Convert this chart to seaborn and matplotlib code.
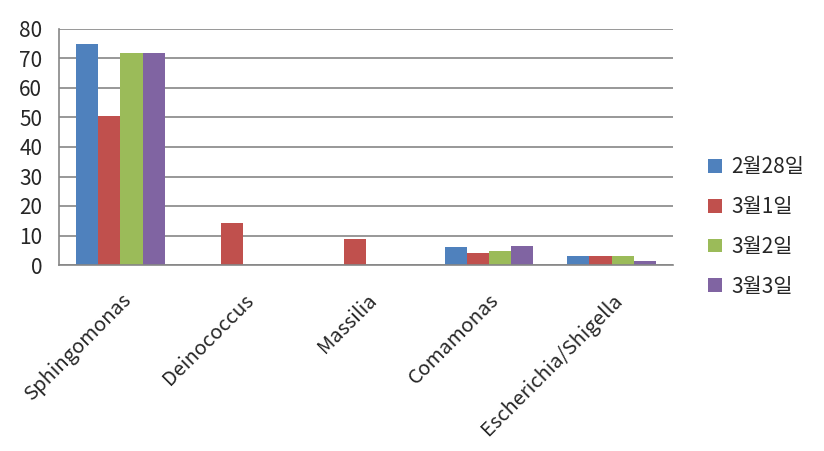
import matplotlib
matplotlib.use("Agg")
import matplotlib.pyplot as plt
import seaborn as sns
import pandas as pd
import numpy as np

categories = ["Sphingomonas", "Deinococcus", "Massilia", "Comamonas", "Escherichia/Shigella"]
series_names = ["2월28일", "3월1일", "3월2일", "3월3일"]
v_feb28 = [75.0, 0.0, 0.0, 6.1, 3.1]
v_mar1 = [50.5, 14.3, 8.8, 4.1, 3.1]
v_mar2 = [71.9, 0.0, 0.0, 4.7, 3.1]
v_mar3 = [71.9, 0.0, 0.0, 6.4, 1.4]
colors = ["#4F81BD", "#C0504D", "#9BBB59", "#8064A2"]

rows = []
for name, vals in zip(series_names, [v_feb28, v_mar1, v_mar2, v_mar3]):
    for c, v in zip(categories, vals):
        rows.append({"genus": c, "date": name, "value": v})
df = pd.DataFrame(rows)

sns.set_style("white")
plt.rcParams['font.family'] = ['Noto Sans CJK KR', 'DejaVu Sans']

fig = plt.figure(figsize=(8.24, 4.51), dpi=100)
ax = fig.add_axes([59/824, 1-265/451, (673-59)/824, (265-29)/451])
sns.barplot(data=df, x="genus", y="value", hue="date", order=categories,
            hue_order=series_names, palette=colors, width=0.72, saturation=1,
            edgecolor="none", linewidth=0, ax=ax)

ax.set_ylim(0, 80)
ax.set_xlim(-0.5, len(categories) - 0.5)
ax.set_yticks(np.arange(0, 81, 10))
ax.yaxis.grid(True, color="#868686", linewidth=1.2)
ax.set_axisbelow(True)
ax.set_xlabel("")
ax.set_ylabel("")
for s in ["top", "right"]:
    ax.spines[s].set_visible(False)
for s in ["left", "bottom"]:
    ax.spines[s].set_color("#868686")
    ax.spines[s].set_linewidth(1.2)

ax.tick_params(axis="y", length=8, color="#868686", width=1.2, labelsize=15, pad=4)
ax.set_xticks(range(len(categories)))
ax.set_xticklabels(categories, rotation=45, ha="right", rotation_mode="anchor", fontsize=14.5)
ax.tick_params(axis="x", which="major", length=0, pad=18)
ax.set_xticks(np.arange(-0.5, len(categories), 1.0), minor=True)
ax.tick_params(axis="x", which="minor", length=8, color="#868686", width=1.2)

handles, labels = ax.get_legend_handles_labels()
ax.legend(handles, labels, loc="center left", bbox_to_anchor=(698/824, 1-227/451),
          bbox_transform=fig.transFigure, frameon=False, fontsize=15,
          handlelength=0.65, handleheight=0.65, handletextpad=0.45, labelspacing=0.85,
          borderpad=0)

fig.savefig("out.png", dpi=100)
